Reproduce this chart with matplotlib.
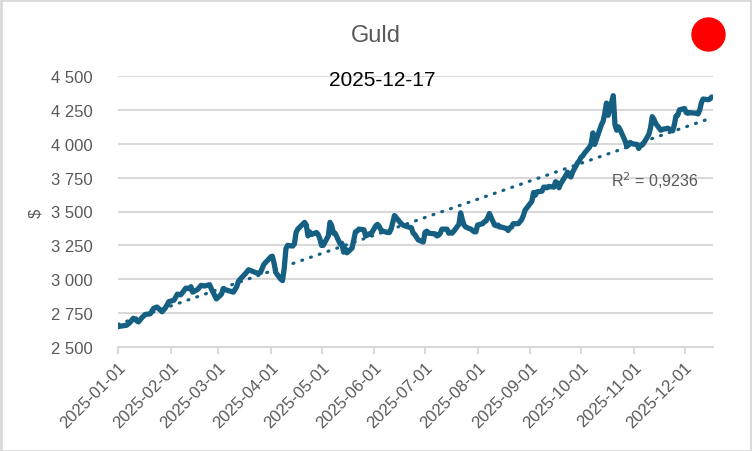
import numpy as np
import pandas as pd
import matplotlib
matplotlib.use("Agg")
import matplotlib.pyplot as plt
import matplotlib.dates as mdates
from matplotlib.patches import Ellipse, Rectangle

plt.rcParams["font.family"] = ["Liberation Sans", "DejaVu Sans"]

title = "Guld"
date_text = "2025-12-17"
r2_text = "R$^2$ = 0,9236"
y_label = "$"

dates = [
    "2025-01-01", "2025-01-03", "2025-01-06", "2025-01-08", "2025-01-10", "2025-01-13", "2025-01-15",
    "2025-01-17", "2025-01-20", "2025-01-22", "2025-01-24", "2025-01-27", "2025-01-29", "2025-01-31",
    "2025-02-03", "2025-02-05", "2025-02-07", "2025-02-10", "2025-02-12", "2025-02-13", "2025-02-14",
    "2025-02-17", "2025-02-19", "2025-02-21", "2025-02-24", "2025-02-25", "2025-02-27", "2025-02-28",
    "2025-03-03", "2025-03-04", "2025-03-06", "2025-03-10", "2025-03-12", "2025-03-13", "2025-03-14",
    "2025-03-17", "2025-03-19", "2025-03-21", "2025-03-24", "2025-03-26", "2025-03-28", "2025-03-31",
    "2025-04-01", "2025-04-02", "2025-04-03", "2025-04-04", "2025-04-07", "2025-04-08", "2025-04-09",
    "2025-04-10", "2025-04-11", "2025-04-14", "2025-04-15", "2025-04-16", "2025-04-17", "2025-04-21",
    "2025-04-22", "2025-04-23", "2025-04-24", "2025-04-25", "2025-04-28", "2025-04-29", "2025-04-30",
    "2025-05-01", "2025-05-02", "2025-05-05", "2025-05-06", "2025-05-07", "2025-05-08", "2025-05-09",
    "2025-05-12", "2025-05-13", "2025-05-14", "2025-05-15", "2025-05-16", "2025-05-19", "2025-05-20",
    "2025-05-21", "2025-05-22", "2025-05-23", "2025-05-26", "2025-05-27", "2025-05-28", "2025-05-29",
    "2025-05-30",
    "2025-06-02", "2025-06-03", "2025-06-04", "2025-06-05", "2025-06-06", "2025-06-09", "2025-06-10",
    "2025-06-11", "2025-06-12", "2025-06-13", "2025-06-16", "2025-06-17", "2025-06-18", "2025-06-20",
    "2025-06-23", "2025-06-24", "2025-06-25", "2025-06-26", "2025-06-27", "2025-06-30",
    "2025-07-01", "2025-07-02", "2025-07-03", "2025-07-07", "2025-07-08", "2025-07-09", "2025-07-10",
    "2025-07-11", "2025-07-14", "2025-07-15", "2025-07-16", "2025-07-17", "2025-07-18", "2025-07-21",
    "2025-07-22", "2025-07-23", "2025-07-24", "2025-07-25", "2025-07-28", "2025-07-29", "2025-07-30",
    "2025-07-31",
    "2025-08-01", "2025-08-04", "2025-08-05", "2025-08-06", "2025-08-07", "2025-08-08", "2025-08-11",
    "2025-08-12", "2025-08-13", "2025-08-14", "2025-08-15", "2025-08-18", "2025-08-19", "2025-08-20",
    "2025-08-21", "2025-08-22", "2025-08-25", "2025-08-26", "2025-08-27", "2025-08-28", "2025-08-29",
    "2025-09-02", "2025-09-03", "2025-09-04", "2025-09-05", "2025-09-08", "2025-09-09", "2025-09-10",
    "2025-09-11", "2025-09-12", "2025-09-15", "2025-09-16", "2025-09-17", "2025-09-18", "2025-09-19",
    "2025-09-22", "2025-09-23", "2025-09-24", "2025-09-25", "2025-09-26", "2025-09-29", "2025-09-30",
    "2025-10-01", "2025-10-02", "2025-10-03", "2025-10-06", "2025-10-07", "2025-10-08", "2025-10-09",
    "2025-10-10", "2025-10-13", "2025-10-14", "2025-10-15", "2025-10-16", "2025-10-17", "2025-10-20",
    "2025-10-21", "2025-10-22", "2025-10-23", "2025-10-24", "2025-10-27", "2025-10-28", "2025-10-29",
    "2025-10-30", "2025-10-31",
    "2025-11-03", "2025-11-04", "2025-11-05", "2025-11-06", "2025-11-07", "2025-11-10", "2025-11-11",
    "2025-11-12", "2025-11-13", "2025-11-14", "2025-11-17", "2025-11-18", "2025-11-19", "2025-11-20",
    "2025-11-21", "2025-11-24", "2025-11-25", "2025-11-26", "2025-11-27", "2025-11-28",
    "2025-12-01", "2025-12-02", "2025-12-03", "2025-12-04", "2025-12-05", "2025-12-08", "2025-12-09",
    "2025-12-10", "2025-12-11", "2025-12-12", "2025-12-15", "2025-12-16", "2025-12-17",
]

prices = [
    2650, 2655, 2660, 2680, 2712, 2685, 2715,
    2740, 2745, 2785, 2795, 2760, 2790, 2835,
    2845, 2890, 2885, 2935, 2930, 2945, 2905,
    2925, 2955, 2950, 2960, 2930, 2880, 2855,
    2890, 2930, 2920, 2905, 2945, 2985, 3000,
    3040, 3070, 3060, 3045, 3050, 3110, 3150,
    3165, 3170, 3120, 3050, 3000, 2990, 3080,
    3225, 3250, 3245, 3260, 3345, 3370, 3420,
    3400, 3320, 3350, 3330, 3345, 3330, 3300,
    3250, 3250, 3320, 3420, 3395, 3340, 3340,
    3260, 3265, 3200, 3225, 3195, 3230, 3290,
    3350, 3355, 3370, 3365, 3320, 3325, 3335,
    3330,
    3395, 3405, 3390, 3365, 3355, 3345, 3345,
    3370, 3420, 3470, 3425, 3410, 3400, 3390,
    3380, 3340, 3330, 3310, 3290, 3275,
    3345, 3355, 3340, 3335, 3320, 3325, 3340,
    3370, 3370, 3340, 3345, 3340, 3355, 3405,
    3490, 3440, 3400, 3385, 3370, 3360, 3350,
    3350,
    3400, 3410, 3425, 3430, 3455, 3485, 3400,
    3395, 3400, 3385, 3385, 3375, 3360, 3380,
    3385, 3410, 3410, 3425, 3440, 3470, 3510,
    3575, 3640, 3620, 3645, 3650, 3680, 3680,
    3675, 3685, 3680, 3720, 3710, 3675, 3705,
    3765, 3790, 3765, 3755, 3790, 3860, 3875,
    3900, 3910, 3930, 3975, 4000, 4080, 3995,
    4030, 4140, 4165, 4225, 4300, 4210, 4355,
    4140, 4100, 4125, 4105, 4020, 3980, 3990,
    4010, 4000,
    3995, 3965, 3990, 3990, 4005, 4070, 4120,
    4200, 4180, 4150, 4100, 4105, 4110, 4110,
    4115, 4095, 4140, 4205, 4210, 4250,
    4260, 4230, 4225, 4230, 4228, 4225, 4220,
    4250, 4305, 4330, 4325, 4330, 4345,
]

y_ticks = [2500, 2750, 3000, 3250, 3500, 3750, 4000, 4250, 4500]
month_ticks = pd.date_range("2025-01-01", "2025-12-01", freq="MS")

line_col = "#156082"
grey = "#d9d9d9"
text_col = "#595959"

x = pd.to_datetime(dates)
xn = mdates.date2num(x)
y = np.array(prices, dtype=float)

# linear trend
k, m = np.polyfit(xn, y, 1)
x_end = mdates.date2num(pd.Timestamp("2025-12-17"))
x_start = mdates.date2num(pd.Timestamp("2025-01-01"))
tx = np.array([x_start, x_end])

fig = plt.figure(figsize=(7.52, 4.52), dpi=100)
ax = fig.add_axes([118 / 752, 1 - 348 / 452, (713 - 118) / 752, (348 - 77) / 452])

ax.plot(tx, k * tx + m, color=line_col, lw=2.3, linestyle=(0, (0.3, 2.6)),
        dash_capstyle="round", zorder=3)
ax.plot(xn, y, color=line_col, lw=3.8, solid_joinstyle="round", solid_capstyle="round", zorder=4)

ax.set_xlim(x_start, x_end + 0.8)
ax.set_ylim(2500, 4500)
ax.set_yticks(y_ticks)
ax.set_yticklabels([f"{v:,}".replace(",", " ") for v in y_ticks])
ax.set_xticks(mdates.date2num(month_ticks))
ax.set_xticklabels([d.strftime("%Y-%m-%d") for d in month_ticks], rotation=45,
                   ha="right", va="top", rotation_mode="anchor")

ax.grid(axis="y", color=grey, lw=1.5, zorder=0)
ax.set_axisbelow(True)
for s in ["top", "right", "left"]:
    ax.spines[s].set_visible(False)
ax.spines["bottom"].set_color(grey)
ax.spines["bottom"].set_linewidth(1.5)
ax.tick_params(axis="y", length=0, pad=18, labelsize=12, labelcolor=text_col)
ax.tick_params(axis="x", length=5, width=1.5, color=grey, pad=4, labelsize=12, labelcolor=text_col)

fig.text(376 / 752, 1 - 36 / 452, title, ha="center", va="center", fontsize=17, color=text_col)
fig.text(382 / 752, 1 - 80 / 452, date_text, ha="center", va="center", fontsize=15, color="black")
fig.text(611 / 752, 1 - 181 / 452, r2_text, ha="left", va="center", fontsize=11.5, color=text_col)
fig.text(36 / 752, 1 - 213 / 452, y_label, ha="center", va="center", rotation=90,
         fontsize=12, color=text_col)

fig.patches.append(Ellipse((708.5 / 752, 1 - 35.5 / 452), 33 / 752, 33 / 452, color="red",
                           transform=fig.transFigure, figure=fig))
fig.patches.append(Rectangle((0.001, 0.001), 0.998, 0.997, fill=False, edgecolor=grey, lw=2,
                             transform=fig.transFigure, figure=fig))

fig.savefig("out.png", dpi=100)
